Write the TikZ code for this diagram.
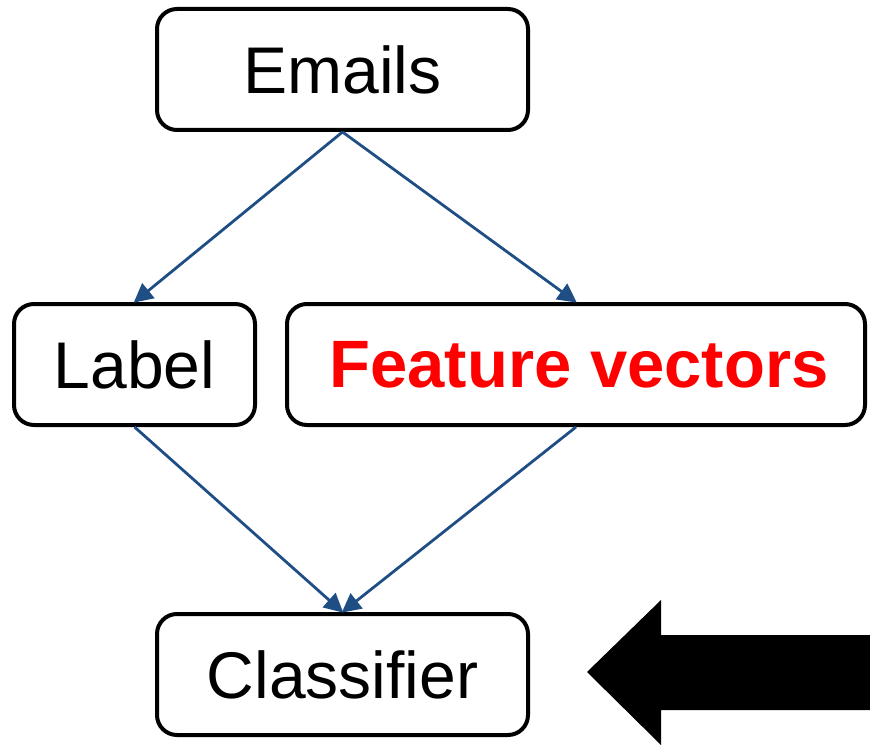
\documentclass[tikz,border=0pt]{standalone}
\usepackage{fontspec}
\setmainfont{Liberation Sans}
\usetikzlibrary{arrows.meta}
\definecolor{arrowblue}{HTML}{1F4E85}
\definecolor{featred}{HTML}{FF0000}
\tikzset{
  box/.style={draw=black, line width=4pt, rounded corners=20pt, fill=white,
    minimum height=121pt, inner sep=0pt,
    font=\fontsize{66}{79}\selectfont},
  flow/.style={draw=arrowblue, line width=2.8pt,
    -{Triangle[length=19pt,width=19pt]}, shorten >=-1pt},
}
\begin{document}
\begin{tikzpicture}[x=1pt,y=-1pt]
\useasboundingbox (0,0) rectangle (870,746);
\node[box, minimum width=371pt] (emails) at (342.5,69.5) {Emails};
\node[box, minimum width=241pt] (label) at (134.5,364.5) {Label};
\node[box, minimum width=578pt, text=featred, font=\fontsize{67}{80}\selectfont\bfseries] (feature) at (576,364.5) {\hspace*{6pt}Feature vectors};
\node[box, minimum width=371pt] (classifier) at (342.5,674.5) {Classifier};
\draw[flow] (emails.south) -- (label.north);
\draw[flow] (emails.south) -- (feature.north);
\draw[flow] (label.south) -- (classifier.north);
\draw[flow] (feature.south) -- (classifier.north);
\fill[black] (587,672) -- (661,600) -- (661,635) -- (872,635) -- (872,710) -- (661,710) -- (661,745) -- cycle;
\end{tikzpicture}
\end{document}
